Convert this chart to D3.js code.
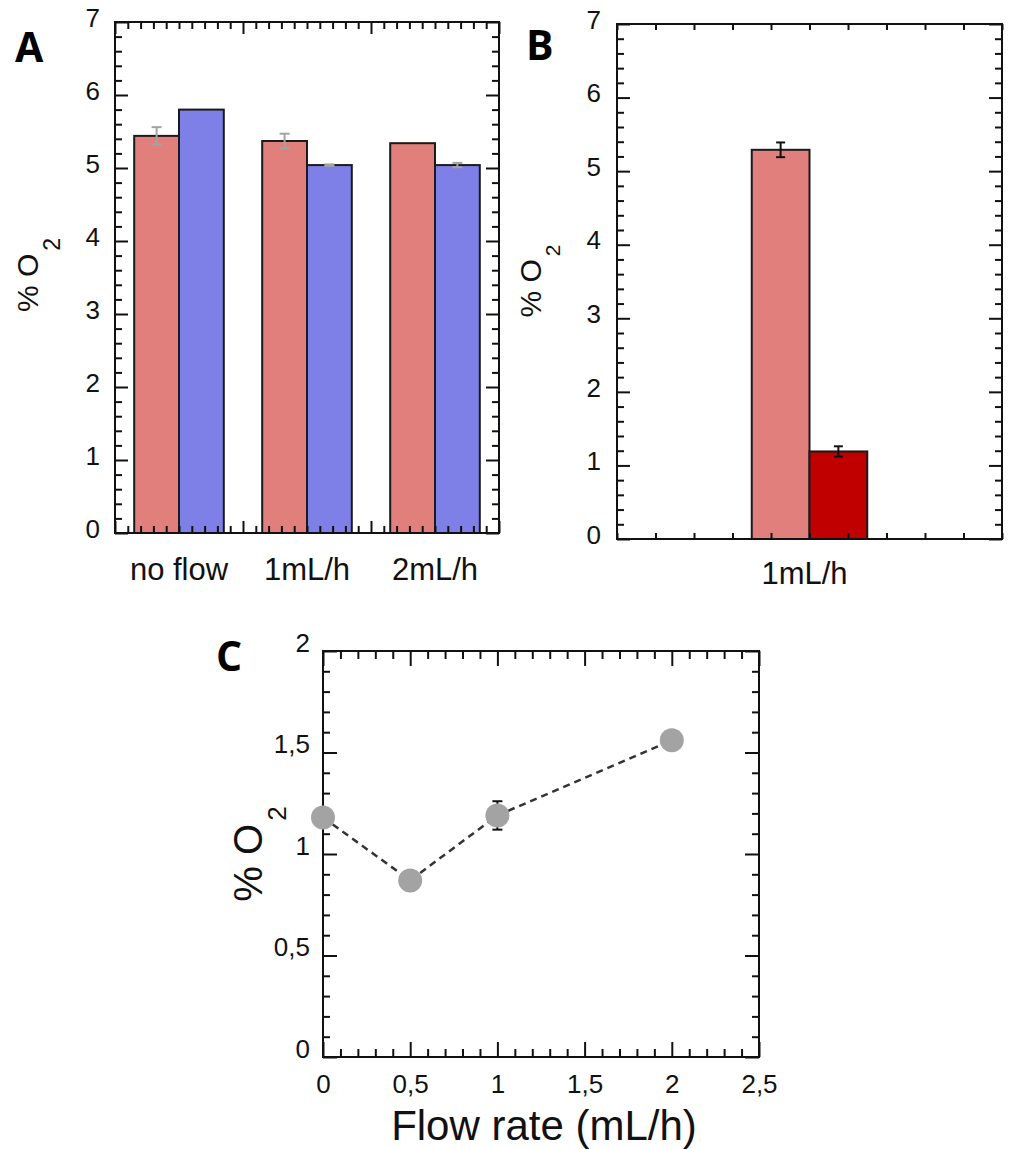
<!DOCTYPE html>
<head>
<meta charset="utf-8">
<title>% O2 vs flow</title>
<script src="https://d3js.org/d3.v7.min.js"></script>
<style>
  body { margin: 0; background: #fff; }
  svg { font-family: "Liberation Sans", Arial, sans-serif; background: #fff; }
  .frame { fill: none; stroke: #111; stroke-width: 2px; }
  .tick line { stroke: #111; stroke-width: 2px; }
  .domain { display: none; }
  .tag { font-family: "Open Sans", sans-serif; font-weight: 700; font-size: 41px; fill: #000; }
  .bar { stroke: #1a1a1a; stroke-width: 2px; }
  .ylab { fill: #111; }
</style>
</head>
<body>
<script>
// ---- data ----
var catsA = ["no flow", "1mL/h", "2mL/h"];
var seriesA = ["s1", "s2"];
var valsA1 = [5.44, 5.37, 5.34];
var errA1 = [0.12, 0.10, 0];
var valsA2 = [5.80, 5.04, 5.04];
var errA2 = [0, 0.01, 0.03];

var catsB = ["1mL/h"];
var seriesB = ["s1", "s2"];
var valsB1 = [5.29];
var errB1 = [0.10];
var valsB2 = [1.19];
var errB2 = [0.07];

var flowC = [0, 0.5, 1, 2];
var o2C = [1.18, 0.87, 1.19, 1.56];
var errC = [0, 0, 0.07, 0];

var yTicksAB = [0, 1, 2, 3, 4, 5, 6, 7];
var yTicksC = [0, 0.5, 1, 1.5, 2];
var yLabelsC = ["0", "0,5", "1", "1,5", "2"];
var xTicksC = [0, 0.5, 1, 1.5, 2, 2.5];
var xLabelsC = ["0", "0,5", "1", "1,5", "2", "2,5"];

var colRed = "#e07f7c", colBlue = "#7f7fe8", colDark = "#c00000";
var fontMain = "'Liberation Sans', Arial, sans-serif";

var svg = d3.select("body").append("svg")
  .attr("width", 1011)
  .attr("height", 1149);

function minorTicks(lo, hi, step, majors) {
  return d3.range(lo, hi + step / 2, step)
    .map(function(v) { return +v.toFixed(4); })
    .filter(function(v) { return majors.indexOf(v) < 0; });
}

function styleTxt(sel, size) {
  sel.style("font-family", fontMain).style("font-size", size + "px").attr("fill", "#111");
}

// inward ticks on all four sides
function frameTicks(g, x, y, w, h, o) {
  var ly = g.append("g").call(d3.axisLeft(y).tickValues(o.yMaj).tickSize(-o.yMajLen)
      .tickPadding(o.yPad).tickFormat(function(d, i) { return o.yLab ? o.yLab[i] : ""; }))
    .selectAll("text").attr("dy", o.yDy);
  styleTxt(ly, 26);
  g.append("g").call(d3.axisLeft(y).tickValues(o.yMin).tickSize(-o.yMinLen).tickFormat(""));
  g.append("g").attr("transform", "translate(" + w + ",0)")
    .call(d3.axisRight(y).tickValues(o.yMaj).tickSize(-o.yMajLen).tickFormat(""));
  g.append("g").attr("transform", "translate(" + w + ",0)")
    .call(d3.axisRight(y).tickValues(o.yMin).tickSize(-o.yMinLen).tickFormat(""));

  g.append("g").call(d3.axisTop(x).tickValues(o.xMaj).tickSize(-o.xMajLen).tickFormat(""));
  g.append("g").call(d3.axisTop(x).tickValues(o.xMin).tickSize(-o.xMinLen).tickFormat(""));
  var bx = g.append("g").attr("transform", "translate(0," + h + ")")
    .call(d3.axisBottom(x).tickValues(o.xMaj).tickSize(-o.xMajLen).tickPadding(o.xPad || 0)
      .tickFormat(function(d, i) { return o.xLab ? o.xLab[i] : ""; }));
  styleTxt(bx.selectAll("text").attr("dy", "0.71em"), 26);
  g.append("g").attr("transform", "translate(0," + h + ")")
    .call(d3.axisBottom(x).tickValues(o.xMin).tickSize(-o.xMinLen).tickFormat(""));

  g.append("rect").attr("class", "frame").attr("width", w).attr("height", h);
}

function yLabel(px, py, size, subSize, subDy) {
  var t = svg.append("text").attr("class", "ylab")
    .attr("transform", "translate(" + px + "," + py + ") rotate(-90)")
    .attr("text-anchor", "middle")
    .style("font-family", fontMain)
    .style("font-size", size + "px")
    .text("% O");
  t.append("tspan").attr("dx", 3).attr("dy", subDy)
    .style("font-size", subSize + "px").text("2");
}

function errBar(g, cx, y, v, e, cap, color) {
  if (!e) return;
  g.append("path")
    .attr("d", d3.line()([[cx, y(v - e)], [cx, y(v + e)]]))
    .attr("stroke", color).attr("stroke-width", 2).attr("fill", "none");
  [v - e, v + e].forEach(function(t) {
    g.append("path")
      .attr("d", d3.line()([[cx - cap / 2, y(t)], [cx + cap / 2, y(t)]]))
      .attr("stroke", color).attr("stroke-width", 2);
  });
}

// ---------- panel A ----------
(function() {
  var w = 384, h = 511;
  var g = svg.append("g").attr("transform", "translate(115,22)");
  var y = d3.scaleLinear().domain([0, 7]).range([h, 0]);
  var x = d3.scaleLinear().domain([0, 3]).range([0, w]);
  var xb = d3.scaleBand().domain(catsA).range([0, w]).padding(0);
  var xs = d3.scaleBand().domain(seriesA).range([0, xb.bandwidth()])
    .paddingInner(0).paddingOuter(0.15 / 0.35);

  var flat = d3.merge(catsA.map(function(c, i) {
    return [{c: c, s: "s1", v: valsA1[i], e: errA1[i], col: colRed},
            {c: c, s: "s2", v: valsA2[i], e: errA2[i], col: colBlue}];
  }));
  g.selectAll("rect.bar").data(flat).enter().append("rect")
    .attr("class", "bar")
    .attr("x", function(d) { return xb(d.c) + xs(d.s); })
    .attr("width", xs.bandwidth())
    .attr("y", function(d) { return y(d.v); })
    .attr("height", function(d) { return h - y(d.v); })
    .attr("fill", function(d) { return d.col; });
  flat.forEach(function(d) {
    errBar(g, xb(d.c) + xs(d.s) + xs.bandwidth() / 2, y, d.v, d.e, 10, "#a3a3a3");
  });

  frameTicks(g, x, y, w, h, {
    yMaj: yTicksAB, yMin: minorTicks(0, 7, 0.2, yTicksAB), yMajLen: 13, yMinLen: 7,
    yPad: 15, yDy: "0.17em", yLab: yTicksAB.map(String),
    xMaj: [0, 1, 2, 3], xMin: minorTicks(0, 3, 0.1, [0, 1, 2, 3]), xMajLen: 12, xMinLen: 7
  });

  var cat = g.append("g").attr("transform", "translate(0," + h + ")")
    .call(d3.axisBottom(xb).tickSize(0));
  styleTxt(cat.selectAll("text").attr("y", 47).attr("dy", 0), 31);

  svg.append("text").attr("class", "tag").attr("x", 15).attr("y", 62).text("A");
  yLabel(38, 275, 30, 23, 22);
})();

// ---------- panel B ----------
(function() {
  var w = 385, h = 515;
  var g = svg.append("g").attr("transform", "translate(617,24)");
  var y = d3.scaleLinear().domain([0, 7]).range([h, 0]);
  var x = d3.scaleLinear().domain([0, 10]).range([0, w]);
  var xb = d3.scaleBand().domain(catsB).range([0, w]).padding(0);
  var xs = d3.scaleBand().domain(seriesB).range([0, xb.bandwidth()])
    .paddingInner(0).paddingOuter(0.35 / 0.15);

  var flat = d3.merge(catsB.map(function(c, i) {
    return [{c: c, s: "s1", v: valsB1[i], e: errB1[i], col: colRed},
            {c: c, s: "s2", v: valsB2[i], e: errB2[i], col: colDark}];
  }));
  g.selectAll("rect.bar").data(flat).enter().append("rect")
    .attr("class", "bar")
    .attr("x", function(d) { return xb(d.c) + xs(d.s); })
    .attr("width", xs.bandwidth())
    .attr("y", function(d) { return y(d.v); })
    .attr("height", function(d) { return h - y(d.v); })
    .attr("fill", function(d) { return d.col; });
  flat.forEach(function(d) {
    errBar(g, xb(d.c) + xs(d.s) + xs.bandwidth() / 2, y, d.v, d.e, 9, "#111");
  });

  var xt = d3.range(0, 11);
  frameTicks(g, x, y, w, h, {
    yMaj: yTicksAB, yMin: minorTicks(0, 7, 0.2, yTicksAB), yMajLen: 13, yMinLen: 7,
    yPad: 16, yDy: "0.16em", yLab: yTicksAB.map(String),
    xMaj: xt, xMin: [], xMajLen: 6, xMinLen: 6
  });

  var cat = g.append("g").attr("transform", "translate(0," + h + ")")
    .call(d3.axisBottom(xb).tickSize(0));
  styleTxt(cat.selectAll("text").attr("y", 45).attr("dy", 0).attr("dx", -5), 31);

  svg.append("text").attr("class", "tag").attr("x", 526).attr("y", 60).text("B");
  yLabel(541, 281, 30, 21, 19);
})();

// ---------- panel C ----------
(function() {
  var w = 436, h = 406;
  var g = svg.append("g").attr("transform", "translate(323,651)");
  var y = d3.scaleLinear().domain([0, 2]).range([h, 0]);
  var x = d3.scaleLinear().domain([0, 2.5]).range([0, w]);

  frameTicks(g, x, y, w, h, {
    yMaj: yTicksC, yMin: minorTicks(0, 2, 0.1, yTicksC), yMajLen: 14, yMinLen: 7,
    yPad: 13, yDy: "0em", yLab: yLabelsC,
    xMaj: xTicksC, xMin: minorTicks(0, 2.5, 0.1, xTicksC), xMajLen: 15, xMinLen: 8,
    xPad: 18, xLab: xLabelsC
  });

  var pts = flowC.map(function(f, i) { return {f: f, v: o2C[i], e: errC[i]}; });
  g.append("path")
    .attr("d", d3.line().x(function(d) { return x(d.f); }).y(function(d) { return y(d.v); })(pts))
    .attr("fill", "none").attr("stroke", "#333").attr("stroke-width", 2.5)
    .attr("stroke-dasharray", "7,5");
  pts.forEach(function(d) { errBar(g, x(d.f), y, d.v, d.e, 10, "#111"); });
  g.selectAll("circle").data(pts).enter().append("circle")
    .attr("cx", function(d) { return x(d.f); })
    .attr("cy", function(d) { return y(d.v); })
    .attr("r", 12)
    .attr("fill", "#a3a3a3");

  svg.append("text")
    .attr("x", 544).attr("y", 1140)
    .attr("text-anchor", "middle")
    .style("font-family", fontMain)
    .style("font-size", "42px").attr("fill", "#111")
    .text("Flow rate (mL/h)");

  svg.append("text").attr("class", "tag").attr("x", 216).attr("y", 671).text("C");
  yLabel(262, 854, 40, 26, 24);
})();
</script>
</body>
